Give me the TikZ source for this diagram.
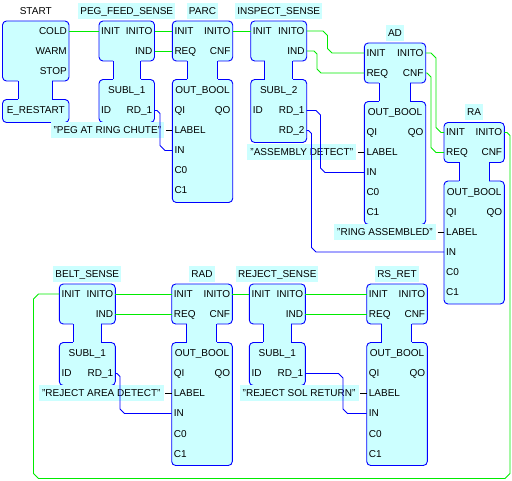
\documentclass[tikz,border=0pt]{standalone}
\usepackage{fontspec}
\setmainfont{Liberation Sans}
\usetikzlibrary{calc}

\definecolor{fbcyan}{RGB}{204,255,255}
\definecolor{evgreen}{RGB}{0,235,0}
\definecolor{dtblue}{RGB}{0,0,255}

% block outline: name, x, top, width, upper rows, lower rows, neck left, neck right
\newcommand{\fbshape}[8]{%
  \pgfmathsetmacro\fbR{#2+#4}%
  \pgfmathsetmacro\fbU{#3+20*#5}%
  \pgfmathsetmacro\fbL{\fbU+18.5}%
  \pgfmathsetmacro\fbB{\fbL+20*#6+3}%
  \filldraw[fbbody] (#2,#3) rectangle (\fbR,\fbU);
  \filldraw[fbbody] (#2,\fbL) rectangle (\fbR,\fbB);
  \fill[fbcyan] (#2+#7,\fbU-1.5) rectangle (\fbR-#8,\fbL+1.5);
  \draw[fbedge] (#2+#7,\fbU) -- (#2+#7,\fbL) (\fbR-#8,\fbU) -- (\fbR-#8,\fbL);
  \coordinate (#1-ev) at (#2,#3+10);
  \coordinate (#1-evr) at (\fbR,#3+10);
  \coordinate (#1-dt) at (#2,\fbL+11);
  \coordinate (#1-dtr) at (\fbR,\fbL+11);
  \coordinate (#1-mid) at ({#2+#4/2},\fbL+11);
  \coordinate (#1-top) at ({#2+#4/2},#3-10);
}
\newcommand{\inport}[4]{\node[inport] (#1) at ($(#2)+(0,20*#3)$) {#4};}
\newcommand{\outport}[4]{\node[outport] (#1) at ($(#2)+(0,20*#3)$) {#4};}
\newcommand{\typename}[4]{\node[typetxt] (#1) at ($(#2)+(0,20*#3)$) {#4};}

\newcommand{\sensorports}[2]{%
  \inport{#1-init}{#1-ev}{0}{INIT}
  \outport{#1-inito}{#1-evr}{0}{INITO}
  \outport{#1-ind}{#1-evr}{1}{IND}
  \typename{#1-type}{#1-mid}{0}{#2}
  \inport{#1-id}{#1-dt}{1}{ID}
  \outport{#1-rd1}{#1-dtr}{1}{RD\_1}}

\newcommand{\boolports}[1]{%
  \inport{#1-init}{#1-ev}{0}{INIT}
  \inport{#1-req}{#1-ev}{1}{REQ}
  \outport{#1-inito}{#1-evr}{0}{INITO}
  \outport{#1-cnf}{#1-evr}{1}{CNF}
  \typename{#1-type}{#1-mid}{0}{OUT\_BOOL}
  \inport{#1-qi}{#1-dt}{1}{QI}
  \outport{#1-qo}{#1-dtr}{1}{QO}
  \inport{#1-label}{#1-dt}{2}{LABEL}
  \inport{#1-in}{#1-dt}{3}{IN}
  \inport{#1-c0}{#1-dt}{4}{C0}
  \inport{#1-c1}{#1-dt}{5}{C1}}

\begin{document}
\begin{tikzpicture}[
    x=1pt,y=-1pt,
    fbbody/.style={fill=fbcyan,draw=dtblue,line width=0.9pt,rounded corners=4pt},
    fbedge/.style={draw=dtblue,line width=0.9pt},
    port/.style={font=\fontsize{10}{12}\selectfont,inner xsep=2pt,inner ysep=0pt,text height=7pt,text depth=0pt},
    inport/.style={port,anchor=west},
    outport/.style={port,anchor=east},
    typetxt/.style={port},
    fbplain/.style={port,inner ysep=4.5pt},
    fbname/.style={port,fill=fbcyan,inner ysep=4.5pt},
    parlabel/.style={port,fill=fbcyan,inner xsep=3pt,inner ysep=4.5pt,anchor=east},
    parwire/.style={black,line width=0.6pt,shorten <=1.5pt},
    ev/.style={evgreen,line width=0.8pt},
    dt/.style={dtblue,line width=0.8pt}
]
    \useasboundingbox (0,0) rectangle (512,481);

    \fbshape{start}{2.5}{21}{66.5}{3}{1}{15.5}{17}
    \fbshape{peg}{99}{21}{55.5}{2}{2}{14}{14}
    \fbshape{parc}{172.3}{21}{60.4}{2}{6}{15}{15}
    \fbshape{insp}{250.7}{21}{56}{2}{3}{14}{14}
    \fbshape{ad}{364.3}{43}{61.4}{2}{6}{15}{15.5}
    \fbshape{ra}{444}{122.5}{60.3}{2}{6}{15}{15}
    \fbshape{belt}{59.3}{284}{56}{2}{2}{14}{14}
    \fbshape{rad}{171.7}{284}{60.6}{2}{6}{15}{15.5}
    \fbshape{rej}{249.3}{284}{56}{2}{2}{14}{14}
    \fbshape{rs}{366.7}{284}{60.6}{2}{6}{15}{15.5}

    \node[fbplain] (start-name) at (start-top) {START};
    \node[fbname] (peg-name) at (peg-top) {PEG\_FEED\_SENSE};
    \node[fbname] (parc-name) at (parc-top) {PARC};
    \node[fbname] (insp-name) at (insp-top) {INSPECT\_SENSE};
    \node[fbname] (ad-name) at (ad-top) {AD};
    \node[fbname] (ra-name) at (ra-top) {RA};
    \node[fbname] (belt-name) at (belt-top) {BELT\_SENSE};
    \node[fbname] (rad-name) at (rad-top) {RAD};
    \node[fbname] (rej-name) at (rej-top) {REJECT\_SENSE};
    \node[fbname] (rs-name) at (rs-top) {RS\_RET};

    \outport{start-cold}{start-evr}{0}{COLD}
    \outport{start-warm}{start-evr}{1}{WARM}
    \outport{start-stop}{start-evr}{2}{STOP}
    \typename{start-type}{start-mid}{0}{E\_RESTART}

    \sensorports{peg}{SUBL\_1}
    \sensorports{insp}{SUBL\_2}
    \outport{insp-rd2}{insp-dtr}{2}{RD\_2}
    \sensorports{belt}{SUBL\_1}
    \sensorports{rej}{SUBL\_1}

    \boolports{parc}
    \boolports{ad}
    \boolports{ra}
    \boolports{rad}
    \boolports{rs}

    \node[parlabel] (chute) at ($(parc-label.west)+(-8,0)$) {"PEG AT RING CHUTE"};
    \node[parlabel] (assy) at ($(ad-label.west)+(-8,0)$) {"ASSEMBLY DETECT"};
    \node[parlabel] (ring) at ($(ra-label.west)+(-8,0)$) {"RING ASSEMBLED"};
    \node[parlabel] (area) at ($(rad-label.west)+(-8,0)$) {"REJECT AREA DETECT"};
    \node[parlabel] (solret) at ($(rs-label.west)+(-8,0)$) {"REJECT SOL RETURN"};

    \draw[parwire] (chute.east) -- (parc-label.west);
    \draw[parwire] (assy.east) -- (ad-label.west);
    \draw[parwire] (ring.east) -- (ra-label.west);
    \draw[parwire] (area.east) -- (rad-label.west);
    \draw[parwire] (solret.east) -- (rs-label.west);

    % events
    \draw[ev] (start-cold.east) -- (peg-init.west);
    \draw[ev] (peg-inito.east) -- (parc-init.west);
    \draw[ev] (peg-ind.east) -- (parc-req.west);
    \draw[ev] (parc-inito.east) -- (insp-init.west);
    \draw[ev] (insp-inito.east) -- (323,31) -- (327.5,35.5) -- (327.5,48.5) -- (332,53) -- (ad-init.west);
    \draw[ev] (insp-ind.east) -- (314,51) -- (317,54) -- (317,69) -- (321,73) -- (ad-req.west);
    \draw[ev] (ad-inito.east) -- (431,53) -- (436,58) -- (436,127.5) -- (441,132.5) -- (ra-init.west);
    \draw[ev] (ad-cnf.east) -- (427,73) -- (431,77) -- (431,147.5) -- (436,152.5) -- (ra-req.west);
    \draw[ev] (ra-inito.east) -- (507,132.5) -- (510,135.5) -- (510,473.5) -- (505,478.5)
        -- (38.5,478.5) -- (33.5,473.5) -- (33.5,299) -- (38.5,294) -- (belt-init.west);
    \draw[ev] (belt-inito.east) -- (rad-init.west);
    \draw[ev] (belt-ind.east) -- (rad-req.west);
    \draw[ev] (rad-inito.east) -- (rej-init.west);
    \draw[ev] (rej-inito.east) -- (rs-init.west);
    \draw[ev] (rej-ind.east) -- (rs-req.west);

    % data
    \draw[dt] (peg-rd1.east) -- (157,110.5) -- (160,113.5) -- (160,145.5) -- (165,150.5) -- (parc-in.west);
    \draw[dt] (insp-rd1.east) -- (316,110.5) -- (320.5,115) -- (320.5,168) -- (325,172.5) -- (ad-in.west);
    \draw[dt] (insp-rd2.east) -- (308.5,130.5) -- (311.5,133.5) -- (311.5,247.5) -- (316,252) -- (ra-in.west);
    \draw[dt] (belt-rd1.east) -- (117,373.5) -- (120,376.5) -- (120,409) -- (124.5,413.5) -- (rad-in.west);
    \draw[dt] (rej-rd1.east) -- (338.5,373.5) -- (343,378) -- (343,409) -- (347.5,413.5) -- (rs-in.west);
\end{tikzpicture}
\end{document}
